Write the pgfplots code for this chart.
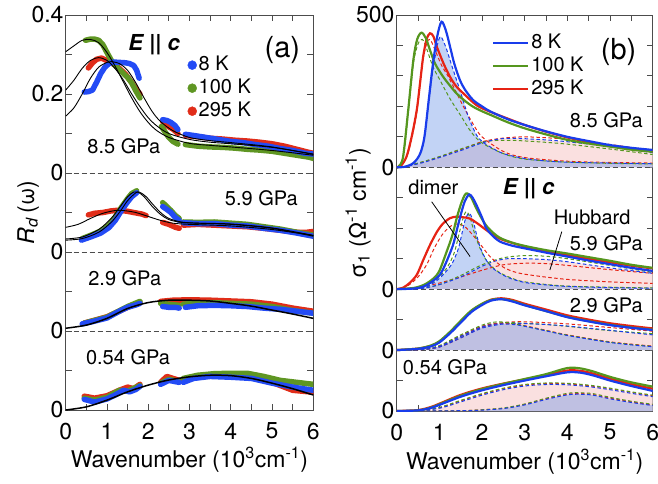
\documentclass[border=0pt]{standalone}
\usepackage{fontspec}
\setmainfont{TeX Gyre Heros}
\usepackage{pgfplots}
\pgfplotsset{compat=1.18}

\definecolor{db}{RGB}{35,75,245}
\definecolor{dg}{RGB}{95,150,35}
\definecolor{dr}{RGB}{225,45,25}
\definecolor{lb}{RGB}{25,60,235}
\definecolor{lg}{RGB}{85,150,30}
\definecolor{lr}{RGB}{230,35,20}
\definecolor{fpink}{RGB}{250,224,224}
\definecolor{fblue}{RGB}{95,140,230}

\pgfplotsset{
  sh/.style={y filter/.expression={y+#1}},
  dots/.style={line width=5.5pt, line cap=round, line join=round},
  fit/.style={black, line width=0.9pt, smooth},
  sol/.style={line width=2.2pt, smooth},
  dsh/.style={line width=1pt, smooth, dash pattern=on 3.5pt off 2.5pt},
  hub/.style={fill=fpink, draw=none, smooth},
  dim/.style={fill=fblue, fill opacity=0.38, draw=none, smooth},
  base/.style={black!70, line width=0.8pt, dash pattern=on 5pt off 3pt},
  frame/.style={scale only axis, xmin=0, xmax=6,
    xtick={0,...,6}, xticklabels={0,1,2,3,4,5,6},
    minor xtick={0.5,1.5,...,5.5},
    tick align=inside, major tick length=6pt, minor tick length=6pt,
    tick style={black!70, line width=0.9pt},
    axis line style={black!70, line width=1pt},
    xlabel={Wavenumber (10\textsuperscript{3}cm\textsuperscript{-1})},
    xlabel style={at={(axis description cs:0.5,-0.127)}, anchor=center},
    yticklabel style={inner xsep=2pt},
    xticklabel style={yshift=-5pt},
    legend cell align=left}
}

\begin{document}
\fontsize{23}{27}\selectfont
\begin{tikzpicture}
\useasboundingbox (0,0) rectangle (658pt,-483pt);

% ---------------- (a) reflectivity ----------------
\begin{axis}[frame, at={(65.7pt,-15pt)}, anchor=north west,
  width=247.6pt, height=395pt, ymin=-0.6, ymax=0.4,
  ytick={-0.6,-0.4,-0.2,0,0.2,0.4}, yticklabels={0,0,0,0,0.2,0.4},
  minor ytick={-0.5,-0.3,-0.1,0.1,0.3},
  ylabel={\textit{R}\textsubscript{\textit{d}}\,(ω)},
  ylabel style={at={(axis description cs:-0.152,0.5)}, anchor=center},
  legend entries={8 K,100 K,295 K},
  legend style={at={(axis description cs:0.48,0.904)}, anchor=north west,
    draw=none, fill=none, font=\fontsize{20}{22}\selectfont,
    row sep=3pt, nodes={inner ysep=1pt}}]
\addlegendimage{only marks, mark=*, mark size=4.5pt, db}
\addlegendimage{only marks, mark=*, mark size=4.5pt, dg}
\addlegendimage{only marks, mark=*, mark size=4.5pt, dr}

\addplot[base] coordinates {(0,0)(6,0)};
\addplot[base] coordinates {(0,-0.2)(6,-0.2)};
\addplot[base] coordinates {(0,-0.4)(6,-0.4)};

% 8.5 GPa
\addplot[dr,dots] coordinates {(0.55,0.266)(0.65,0.279)(0.75,0.288)(0.87,0.291)(0.97,0.286)(1.07,0.28)(1.17,0.275)(1.3,0.265)(1.45,0.25)(1.6,0.229)(1.72,0.21)(1.8,0.2)};
\addplot[dr,dots] coordinates {(2.35,0.13)(2.45,0.12)(2.6,0.111)(2.72,0.1)};
\addplot[dr,dots] coordinates {(2.9,0.095)(3.2,0.092)(3.5,0.088)(3.8,0.086)(4.1,0.083)(4.4,0.081)(4.7,0.078)(5.0,0.074)(5.3,0.068)(5.6,0.06)(5.9,0.052)(6.0,0.05)};
\addplot[dg,dots] coordinates {(0.48,0.336)(0.6,0.339)(0.7,0.339)(0.8,0.336)(0.9,0.325)(1.0,0.305)(1.1,0.286)(1.2,0.272)(1.3,0.262)(1.4,0.252)(1.5,0.242)(1.6,0.228)(1.7,0.208)(1.8,0.19)};
\addplot[dg,dots] coordinates {(2.32,0.118)(2.4,0.105)(2.5,0.09)(2.6,0.08)(2.72,0.073)};
\addplot[dg,dots] coordinates {(2.9,0.072)(3.2,0.068)(3.5,0.066)(3.8,0.065)(4.1,0.063)(4.4,0.06)(4.7,0.058)(5.0,0.055)(5.3,0.05)(5.6,0.045)(5.9,0.04)(6.0,0.037)};
\addplot[db,dots] coordinates {(0.45,0.205)(0.55,0.206)(0.65,0.21)(0.75,0.23)(0.85,0.252)(0.95,0.268)(1.05,0.277)(1.15,0.281)(1.3,0.28)(1.45,0.279)(1.55,0.277)(1.65,0.272)(1.72,0.26)(1.78,0.24)};
\addplot[db,dots] coordinates {(2.35,0.135)(2.45,0.133)(2.55,0.128)(2.65,0.12)(2.72,0.11)};
\addplot[db,dots] coordinates {(2.9,0.098)(3.1,0.095)(3.4,0.09)(3.7,0.085)(4.0,0.08)(4.3,0.077)(4.6,0.072)(4.9,0.068)(5.2,0.062)(5.5,0.057)(5.8,0.05)(6.0,0.048)};
\addplot[fit] coordinates {(0,0.307)(0.2,0.322)(0.4,0.336)(0.6,0.338)(0.8,0.33)(1.0,0.305)(1.2,0.27)(1.4,0.23)(1.6,0.19)(1.8,0.155)(2.0,0.128)(2.2,0.108)(2.5,0.09)(3.0,0.075)(3.5,0.07)(4.0,0.066)(5.0,0.057)(6.0,0.045)};
\addplot[fit] coordinates {(0,0.21)(0.2,0.235)(0.4,0.265)(0.6,0.285)(0.8,0.292)(1.0,0.285)(1.2,0.264)(1.4,0.235)(1.6,0.2)(1.8,0.168)(2.0,0.14)(2.2,0.12)(2.5,0.1)(3.0,0.085)(3.5,0.078)(4.0,0.074)(5.0,0.065)(6.0,0.048)};
\addplot[fit] coordinates {(0,0.144)(0.2,0.165)(0.4,0.2)(0.6,0.24)(0.8,0.268)(1.0,0.28)(1.1,0.282)(1.3,0.277)(1.5,0.26)(1.7,0.228)(1.9,0.19)(2.1,0.155)(2.3,0.13)(2.6,0.107)(3.0,0.09)(3.5,0.082)(4.0,0.077)(5.0,0.066)(6.0,0.047)};

% 5.9 GPa
\addplot[dr,dots,sh=-0.2] coordinates {(0.55,0.094)(0.7,0.098)(0.9,0.1)(1.1,0.104)(1.3,0.106)(1.5,0.103)(1.7,0.099)(1.85,0.096)(1.95,0.092)};
\addplot[dr,dots,sh=-0.2] coordinates {(2.35,0.075)(2.5,0.07)(2.65,0.063)(2.75,0.06)};
\addplot[dr,dots,sh=-0.2] coordinates {(2.85,0.068)(3.2,0.07)(3.6,0.068)(4.0,0.066)(4.4,0.064)(4.8,0.06)(5.2,0.055)(5.6,0.05)(5.85,0.05)(6.0,0.052)};
\addplot[dg,dots,sh=-0.2] coordinates {(0.4,0.034)(0.6,0.042)(0.85,0.053)(1.05,0.068)(1.2,0.088)(1.35,0.113)(1.5,0.135)(1.6,0.148)(1.72,0.155)};
\addplot[dg,dots,sh=-0.2] coordinates {(2.35,0.125)(2.45,0.115)(2.55,0.105)(2.65,0.093)(2.75,0.085)};
\addplot[dg,dots,sh=-0.2] coordinates {(2.85,0.076)(3.2,0.075)(3.6,0.076)(4.0,0.073)(4.4,0.07)(4.8,0.064)(5.2,0.058)(5.6,0.05)(6.0,0.043)};
\addplot[db,dots,sh=-0.2] coordinates {(0.38,0.03)(0.6,0.038)(0.85,0.048)(1.05,0.062)(1.2,0.08)(1.35,0.105)(1.5,0.127)(1.6,0.14)(1.72,0.15)};
\addplot[db,dots,sh=-0.2] coordinates {(2.35,0.115)(2.45,0.108)(2.55,0.1)(2.65,0.088)(2.75,0.08)};
\addplot[db,dots,sh=-0.2] coordinates {(2.85,0.074)(3.2,0.072)(3.6,0.072)(4.0,0.068)(4.4,0.066)(4.8,0.06)(5.2,0.055)(5.6,0.048)(6.0,0.04)};
\addplot[fit,sh=-0.2] coordinates {(0,0.0625)(0.3,0.07)(0.6,0.085)(0.9,0.098)(1.2,0.105)(1.4,0.105)(1.7,0.1)(2.0,0.09)(2.3,0.08)(2.6,0.073)(3.0,0.07)(4.0,0.066)(5.0,0.057)(6.0,0.042)};
\addplot[fit,sh=-0.2] coordinates {(0,0.03)(0.4,0.034)(0.8,0.05)(1.1,0.075)(1.3,0.1)(1.5,0.13)(1.7,0.15)(1.8,0.151)(1.95,0.14)(2.1,0.122)(2.3,0.1)(2.5,0.085)(2.8,0.076)(3.2,0.073)(4.0,0.07)(5.0,0.06)(6.0,0.04)};
\addplot[fit,sh=-0.2] coordinates {(0,0.033)(0.4,0.038)(0.8,0.057)(1.1,0.085)(1.3,0.112)(1.5,0.14)(1.65,0.152)(1.75,0.152)(1.9,0.14)(2.1,0.115)(2.3,0.095)(2.5,0.082)(2.8,0.075)(3.2,0.073)(4.0,0.071)(5.0,0.061)(6.0,0.042)};

% 2.9 GPa
\addplot[dr,dots,sh=-0.4] coordinates {(0.45,0.02)(1.0,0.036)(1.5,0.06)(1.8,0.072)};
\addplot[dr,dots,sh=-0.4] coordinates {(2.3,0.075)(2.6,0.078)(3.0,0.079)(3.5,0.078)(4.0,0.076)(4.5,0.074)(5.0,0.068)(5.5,0.058)(6.0,0.05)};
\addplot[dg,dots,sh=-0.4] coordinates {(0.45,0.02)(1.0,0.035)(1.5,0.062)(1.8,0.075)};
\addplot[dg,dots,sh=-0.4] coordinates {(2.3,0.07)(2.75,0.065)};
\addplot[dg,dots,sh=-0.4] coordinates {(2.85,0.068)(3.5,0.072)(4.0,0.07)(4.5,0.068)(5.0,0.062)(5.5,0.052)(6.0,0.045)};
\addplot[db,dots,sh=-0.4] coordinates {(0.4,0.018)(0.7,0.025)(1.0,0.033)(1.3,0.05)(1.5,0.06)(1.7,0.066)(1.8,0.07)};
\addplot[db,dots,sh=-0.4] coordinates {(2.35,0.062)(2.5,0.06)(2.65,0.06)(2.75,0.058)};
\addplot[db,dots,sh=-0.4] coordinates {(2.9,0.06)(3.2,0.064)(3.6,0.065)(4.0,0.064)(4.4,0.062)(4.8,0.058)(5.2,0.055)(5.6,0.05)(6.0,0.045)};
\addplot[fit,line width=1.5pt,sh=-0.4] coordinates {(0,0.007)(0.5,0.015)(1.0,0.032)(1.5,0.057)(2.0,0.072)(2.5,0.078)(3.0,0.078)(3.5,0.076)(4.0,0.07)(4.5,0.063)(5.0,0.053)(5.5,0.043)(6.0,0.032)};

% 0.54 GPa
\addplot[dr,dots,sh=-0.6] coordinates {(0.45,0.035)(0.7,0.03)(1.0,0.036)(1.3,0.05)(1.5,0.058)(1.65,0.054)(1.8,0.065)};
\addplot[dr,dots,sh=-0.6] coordinates {(2.3,0.07)(2.45,0.085)(2.6,0.08)(2.75,0.075)};
\addplot[dr,dots,sh=-0.6] coordinates {(2.85,0.075)(3.2,0.085)(3.6,0.088)(4.0,0.088)(4.5,0.082)(5.0,0.07)(5.5,0.05)(6.0,0.045)};
\addplot[dg,dots,sh=-0.6] coordinates {(0.45,0.03)(0.7,0.025)(1.0,0.032)(1.3,0.05)(1.5,0.048)(1.8,0.062)};
\addplot[dg,dots,sh=-0.6] coordinates {(2.3,0.068)(2.5,0.078)(2.75,0.072)};
\addplot[dg,dots,sh=-0.6] coordinates {(2.85,0.08)(3.2,0.088)(3.6,0.092)(4.0,0.093)(4.4,0.093)(4.8,0.085)(5.2,0.075)(5.6,0.07)(6.0,0.065)};
\addplot[db,dots,sh=-0.6] coordinates {(0.45,0.027)(0.7,0.02)(1.0,0.028)(1.2,0.038)(1.4,0.05)(1.55,0.046)(1.7,0.052)(1.8,0.06)};
\addplot[db,dots,sh=-0.6] coordinates {(2.3,0.065)(2.5,0.075)(2.75,0.07)};
\addplot[db,dots,sh=-0.6] coordinates {(2.85,0.07)(3.1,0.08)(3.5,0.085)(4.0,0.083)(4.5,0.08)(5.0,0.068)(5.5,0.058)(6.0,0.05)};
\addplot[fit,line width=1.5pt,sh=-0.6] coordinates {(0,0)(0.5,0.008)(1.0,0.025)(1.5,0.046)(2.0,0.063)(2.5,0.076)(3.0,0.084)(3.5,0.088)(4.0,0.087)(4.5,0.08)(5.0,0.068)(5.5,0.054)(6.0,0.038)};

\node[font=\fontsize{22}{24}\selectfont\bfseries\itshape] at (axis cs:2.14,0.324) {E || c};
\node[font=\fontsize{29}{32}\selectfont] at (axis cs:5.25,0.311) {(a)};
\node[font=\fontsize{20}{22}\selectfont] at (axis cs:1.41,0.068) {8.5 GPa};
\node[font=\fontsize{20}{22}\selectfont] at (axis cs:4.74,-0.065) {5.9 GPa};
\node[font=\fontsize{20}{22}\selectfont] at (axis cs:1.43,-0.266) {2.9 GPa};
\node[font=\fontsize{20}{22}\selectfont] at (axis cs:1.51,-0.466) {0.54 GPa};
\end{axis}

% ---------------- (b) conductivity ----------------
\begin{axis}[frame, at={(396.7pt,-15pt)}, anchor=north west,
  width=256pt, height=396pt, ymin=-800, ymax=500,
  ytick={-800,-600,-400,0,500}, yticklabels={0,0,0,0,500},
  minor ytick={-700,-500,-300,-200,-100,100,200,300,400},
  ylabel={σ\textsubscript{1} (Ω\textsuperscript{-1} cm\textsuperscript{-1})},
  ylabel style={at={(axis description cs:-0.151,0.5)}, anchor=center},
  legend entries={8 K,100 K,295 K},
  legend image code/.code={\draw[#1] (0pt,0pt) -- (35pt,0pt);},
  legend style={at={(axis description cs:0.36,0.96)}, anchor=north west,
    draw=none, fill=none, font=\fontsize{20}{22}\selectfont,
    row sep=3pt, nodes={inner ysep=1pt}}]
\addlegendimage{lb, line width=2.2pt}
\addlegendimage{lg, line width=2.2pt}
\addlegendimage{lr, line width=2.2pt}

% 8.5 GPa
\addplot[hub] coordinates {(0,0)(0.2,2)(0.6,15)(1.0,32)(1.5,55)(2.0,80)(2.4,93)(2.8,95)(3.5,90)(4.0,84)(5.0,68)(6.0,48)(6.0,0)};
\addplot[dim] coordinates {(0,0)(0.2,2)(0.4,15)(0.55,45)(0.65,100)(0.75,215)(0.85,320)(0.95,400)(1.03,429)(1.15,395)(1.3,330)(1.48,254)(1.6,200)(1.71,155)(1.87,106)(2.0,85)(2.18,68)(2.5,45)(3.0,29)(3.5,21)(4.0,17)(5.0,14)(6.0,12)(6.0,0)};
\addplot[base] coordinates {(0,0)(6,0)};
\addplot[dsh,lr] coordinates {(0,0)(0.2,3)(0.6,17)(1.0,34)(1.5,58)(2.0,84)(2.5,96)(3.0,100)(3.5,97)(4.0,92)(5.0,75)(6.0,55)};
\addplot[dsh,lg] coordinates {(0,0)(0.2,3)(0.6,18)(1.0,35)(1.5,60)(2.0,82)(2.3,88)(2.8,88)(3.5,82)(4.0,76)(5.0,60)(6.0,42)};
\addplot[dsh,lb] coordinates {(0,0)(0.2,2)(0.6,15)(1.0,32)(1.5,55)(2.0,80)(2.4,93)(2.8,95)(3.5,90)(4.0,84)(5.0,68)(6.0,48)};
\addplot[dsh,lr] coordinates {(0,0)(0.23,33)(0.35,95)(0.47,180)(0.6,340)(0.7,405)(0.78,420)(0.9,385)(1.05,335)(1.2,300)(1.4,245)(1.6,190)(1.8,140)(2.0,100)(2.5,52)(3.0,32)(4.0,20)(5.0,16)(6.0,14)};
\addplot[dsh,lg] coordinates {(0,0)(0.15,30)(0.27,180)(0.39,340)(0.5,405)(0.6,420)(0.7,390)(0.85,330)(1.0,290)(1.25,225)(1.5,170)(1.75,115)(2.0,80)(2.5,45)(3.0,27)(4.0,17)(5.0,13)(6.0,11)};
\addplot[dsh,lb] coordinates {(0,0)(0.2,2)(0.4,15)(0.55,45)(0.65,100)(0.75,215)(0.85,320)(0.95,400)(1.03,429)(1.15,395)(1.3,330)(1.48,254)(1.6,200)(1.71,155)(1.87,106)(2.0,85)(2.18,68)(2.5,45)(3.0,29)(3.5,21)(4.0,17)(5.0,14)(6.0,12)};
\addplot[sol,lr] coordinates {(0,0)(0.1,5)(0.23,35)(0.35,100)(0.47,188)(0.55,280)(0.62,363)(0.7,420)(0.78,440)(0.86,430)(0.94,396)(1.1,340)(1.25,297)(1.4,265)(1.56,243)(1.87,204)(2.18,183)(2.6,160)(3.0,139)(3.5,117)(4.0,98)(4.5,83)(5.0,70)(5.5,60)(6.0,53)};
\addplot[sol,lg] coordinates {(0,0)(0.05,3)(0.15,35)(0.27,188)(0.39,352)(0.48,420)(0.58,442)(0.68,425)(0.78,385)(0.9,340)(1.09,297)(1.25,268)(1.4,243)(1.6,218)(1.79,199)(2.0,184)(2.2,172)(2.6,148)(3.0,128)(3.5,108)(4.0,90)(4.5,78)(5.0,68)(5.5,58)(6.0,51)};
\addplot[sol,lb] coordinates {(0,0)(0.2,2)(0.4,15)(0.55,45)(0.65,100)(0.75,220)(0.85,340)(0.95,430)(1.05,478)(1.15,450)(1.25,396)(1.35,340)(1.48,287)(1.6,255)(1.79,221)(2.0,200)(2.2,183)(2.6,158)(3.0,139)(3.5,118)(4.0,100)(4.5,86)(5.0,73)(5.5,64)(6.0,57)};

% 5.9 GPa
\addplot[hub,sh=-400] coordinates {(0,0)(0.6,3)(1.0,15)(1.5,40)(2.0,75)(2.3,92)(2.6,100)(3.0,100)(3.5,97)(4.0,90)(5.0,70)(6.0,52)(6.0,0)};
\addplot[dim,sh=-400] coordinates {(0,0)(0.6,3)(0.78,13)(1.0,35)(1.2,65)(1.32,90)(1.45,135)(1.52,177)(1.6,225)(1.69,249)(1.78,230)(1.87,180)(1.95,140)(2.1,95)(2.26,68)(2.45,50)(2.65,36)(3.0,22)(3.5,14)(4.0,9)(5.0,5)(6.0,3)(6.0,0)};
\addplot[base] coordinates {(0,-400)(6,-400)};
\addplot[dsh,lr,sh=-400] coordinates {(0,0)(0.3,2)(0.6,8)(1.0,20)(1.5,40)(2.0,62)(2.5,80)(3.0,85)(3.5,84)(4.0,78)(5.0,64)(6.0,52)};
\addplot[dsh,lg,sh=-400] coordinates {(0,0)(0.6,4)(1.0,15)(1.5,45)(2.0,80)(2.5,103)(3.0,110)(3.5,108)(4.0,100)(5.0,78)(6.0,55)};
\addplot[dsh,lb,sh=-400] coordinates {(0,0)(0.6,3)(1.0,15)(1.5,40)(2.0,75)(2.3,92)(2.6,100)(3.0,100)(3.5,97)(4.0,90)(5.0,70)(6.0,52)};
\addplot[dsh,lr,sh=-400] coordinates {(0,0)(0.15,4)(0.3,15)(0.5,40)(0.7,80)(0.9,140)(1.1,185)(1.3,210)(1.45,214)(1.6,205)(1.8,175)(2.0,140)(2.2,105)(2.5,72)(2.8,55)(3.2,45)(4.0,32)(5.0,24)(6.0,19)};
\addplot[dsh,lg,sh=-400] coordinates {(0,0)(0.6,5)(0.8,18)(1.0,40)(1.2,75)(1.35,120)(1.45,175)(1.55,230)(1.63,255)(1.72,235)(1.82,185)(1.95,135)(2.1,95)(2.3,65)(2.5,48)(2.7,36)(3.0,24)(4.0,10)(6.0,4)};
\addplot[dsh,lb,sh=-400] coordinates {(0,0)(0.6,3)(0.78,13)(1.0,35)(1.2,65)(1.32,90)(1.45,135)(1.52,177)(1.6,225)(1.69,249)(1.78,230)(1.87,180)(1.95,140)(2.1,95)(2.26,68)(2.45,50)(2.65,36)(3.0,22)(3.5,14)(4.0,9)(5.0,5)(6.0,3)};
\addplot[sol,lr,sh=-400] coordinates {(0,0)(0.15,5)(0.3,20)(0.47,47)(0.62,95)(0.78,145)(0.95,190)(1.09,216)(1.25,233)(1.4,238)(1.55,236)(1.71,232)(1.9,215)(2.1,194)(2.3,175)(2.5,161)(3.0,140)(3.5,125)(4.0,112)(4.5,100)(5.0,88)(5.5,77)(6.0,68)};
\addplot[sol,lg,sh=-400] coordinates {(0,0)(0.4,4)(0.65,15)(0.86,35)(1.0,60)(1.17,123)(1.3,175)(1.42,240)(1.52,285)(1.6,310)(1.66,314)(1.75,300)(1.85,270)(2.0,230)(2.15,200)(2.4,170)(2.7,153)(3.0,142)(3.5,128)(4.0,117)(4.5,105)(5.0,93)(5.5,80)(6.0,70)};
\addplot[sol,lb,sh=-400] coordinates {(0,0)(0.4,2)(0.62,8)(0.8,22)(1.01,47)(1.15,85)(1.32,145)(1.42,200)(1.52,254)(1.6,290)(1.7,311)(1.78,300)(1.87,276)(2.0,235)(2.1,200)(2.25,175)(2.42,156)(2.7,143)(3.0,134)(3.5,120)(4.0,107)(4.5,94)(5.0,82)(5.5,70)(6.0,60)};

% 2.9 GPa
\addplot[hub,sh=-600] coordinates {(0,0)(0.6,2)(1.0,10)(1.5,40)(2.0,72)(2.5,86)(2.8,88)(3.0,87)(3.5,84)(4.0,79)(4.5,72)(5.0,65)(5.5,57)(6.0,50)(6.0,0)};
\addplot[dim,sh=-600] coordinates {(0,0)(0.6,2)(1.0,12)(1.5,45)(2.0,76)(2.3,85)(2.5,86)(2.8,83)(3.0,78)(3.5,63)(4.0,48)(4.5,36)(5.0,25)(5.5,17)(6.0,11)(6.0,0)};
\addplot[base] coordinates {(0,-600)(6,-600)};
\addplot[dsh,lr,sh=-600] coordinates {(0,0)(0.6,2)(1.0,10)(1.5,40)(2.0,74)(2.5,90)(2.8,93)(3.2,92)(4.0,86)(5.0,74)(6.0,62)};
\addplot[dsh,lg,sh=-600] coordinates {(0,0)(0.6,2)(1.0,12)(1.5,45)(2.0,78)(2.5,90)(3.0,88)(3.5,84)(4.0,78)(5.0,64)(6.0,54)};
\addplot[dsh,lb,sh=-600] coordinates {(0,0)(0.6,2)(1.0,10)(1.5,40)(2.0,72)(2.5,86)(2.8,88)(3.0,87)(3.5,84)(4.0,79)(4.5,72)(5.0,65)(5.5,57)(6.0,50)};
\addplot[dsh,lr,sh=-600] coordinates {(0,0)(0.6,2)(1.0,13)(1.5,47)(2.0,78)(2.3,87)(2.5,88)(2.8,85)(3.0,80)(3.5,65)(4.0,50)(5.0,27)(6.0,13)};
\addplot[dsh,lg,sh=-600] coordinates {(0,0)(0.6,3)(1.0,15)(1.5,50)(2.0,82)(2.3,92)(2.5,92)(2.8,85)(3.0,79)(3.5,64)(4.0,49)(5.0,26)(6.0,12)};
\addplot[dsh,lb,sh=-600] coordinates {(0,0)(0.6,2)(1.0,12)(1.5,45)(2.0,76)(2.3,85)(2.5,86)(2.8,83)(3.0,78)(3.5,63)(4.0,48)(4.5,36)(5.0,25)(5.5,17)(6.0,11)};
\addplot[sol,lr,sh=-600] coordinates {(0,0)(0.5,5)(0.8,14)(1.0,27)(1.25,58)(1.5,94)(1.75,128)(2.0,151)(2.2,165)(2.45,170)(2.7,165)(3.0,152)(3.5,133)(4.0,114)(4.5,100)(5.0,88)(5.5,79)(6.0,71)};
\addplot[sol,lg,sh=-600] coordinates {(0,0)(0.5,5)(0.8,15)(1.0,29)(1.25,60)(1.5,96)(1.75,130)(2.0,152)(2.2,164)(2.4,168)(2.7,162)(3.0,148)(3.5,128)(4.0,109)(4.5,95)(5.0,83)(5.5,74)(6.0,67)};
\addplot[sol,lb,sh=-600] coordinates {(0,0)(0.5,4)(0.8,12)(1.0,25)(1.25,55)(1.5,90)(1.75,125)(2.0,148)(2.2,162)(2.45,167)(2.7,160)(3.0,147)(3.5,128)(4.0,108)(4.5,94)(5.0,82)(5.5,73)(6.0,66)};

% 0.54 GPa
\addplot[hub,sh=-800] coordinates {(0,0)(0.5,1)(1.0,9)(1.5,30)(2.0,52)(2.5,70)(3.0,82)(3.5,87)(4.0,86)(4.5,80)(5.0,70)(5.5,58)(6.0,47)(6.0,0)};
\addplot[dim,sh=-800] coordinates {(0,0)(1.5,1)(2.0,3)(2.5,8)(3.0,20)(3.5,38)(4.0,53)(4.3,55)(4.6,52)(5.0,40)(5.5,28)(6.0,18)(6.0,0)};
\addplot[dsh,lr,sh=-800] coordinates {(0,0)(0.5,1)(1.0,11)(1.5,33)(2.0,55)(2.5,73)(3.0,85)(3.5,90)(4.0,89)(4.5,83)(5.0,73)(5.5,61)(6.0,50)};
\addplot[dsh,lg,sh=-800] coordinates {(0,0)(0.5,1)(1.0,12)(1.5,35)(2.0,57)(2.5,75)(3.0,87)(3.5,92)(4.0,91)(4.5,85)(5.0,75)(5.5,63)(6.0,52)};
\addplot[dsh,lb,sh=-800] coordinates {(0,0)(0.5,1)(1.0,9)(1.5,30)(2.0,52)(2.5,70)(3.0,82)(3.5,87)(4.0,86)(4.5,80)(5.0,70)(5.5,58)(6.0,47)};
\addplot[dsh,lr,sh=-800] coordinates {(0,0)(1.5,1)(2.0,4)(2.5,9)(3.0,22)(3.5,40)(4.0,55)(4.3,57)(4.6,54)(5.0,42)(5.5,30)(6.0,20)};
\addplot[dsh,lg,sh=-800] coordinates {(0,0)(1.5,1)(2.0,4)(2.5,10)(3.0,23)(3.5,42)(4.0,58)(4.3,60)(4.6,57)(5.0,45)(5.5,32)(6.0,22)};
\addplot[dsh,lb,sh=-800] coordinates {(0,0)(1.5,1)(2.0,3)(2.5,8)(3.0,20)(3.5,38)(4.0,53)(4.3,55)(4.6,52)(5.0,40)(5.5,28)(6.0,18)};
\addplot[sol,lr,sh=-800] coordinates {(0,0)(0.5,3)(0.8,13)(1.0,24)(1.5,53)(2.0,74)(2.5,90)(3.0,104)(3.5,118)(4.0,133)(4.3,132)(4.6,123)(5.0,106)(5.5,88)(6.0,73)};
\addplot[sol,lg,sh=-800] coordinates {(0,0)(0.5,2)(0.8,11)(1.0,22)(1.5,50)(2.0,72)(2.5,89)(3.0,105)(3.5,121)(4.0,141)(4.3,140)(4.6,130)(5.0,112)(5.5,94)(6.0,80)};
\addplot[sol,lb,sh=-800] coordinates {(0,0)(0.5,2)(0.8,10)(1.0,20)(1.5,47)(2.0,68)(2.5,85)(3.0,100)(3.5,114)(4.0,127)(4.3,126)(4.6,117)(5.0,100)(5.5,82)(6.0,66)};

\draw[black, line width=0.8pt] (axis cs:0.82,-113) -- (axis cs:1.72,-293);
\draw[black, line width=0.8pt] (axis cs:3.87,-211) -- (axis cs:3.59,-337);
\node[font=\fontsize{29}{32}\selectfont] at (axis cs:5.2,377) {(b)};
\node[font=\fontsize{20}{22}\selectfont, anchor=east] at (axis cs:5.95,155) {8.5 GPa};
\node[font=\fontsize{20}{22}\selectfont] at (axis cs:0.86,-66) {dimer};
\node[font=\fontsize{22}{24}\selectfont\bfseries\itshape] at (axis cs:3.09,-71) {E || c};
\node[font=\fontsize{20}{22}\selectfont] at (axis cs:4.58,-165) {Hubbard};
\node[font=\fontsize{20}{22}\selectfont, anchor=east] at (axis cs:5.95,-250) {5.9 GPa};
\node[font=\fontsize{20}{22}\selectfont, anchor=east] at (axis cs:5.95,-454) {2.9 GPa};
\node[font=\fontsize{20}{22}\selectfont] at (axis cs:1.13,-657) {0.54 GPa};
\end{axis}
\end{tikzpicture}
\end{document}
